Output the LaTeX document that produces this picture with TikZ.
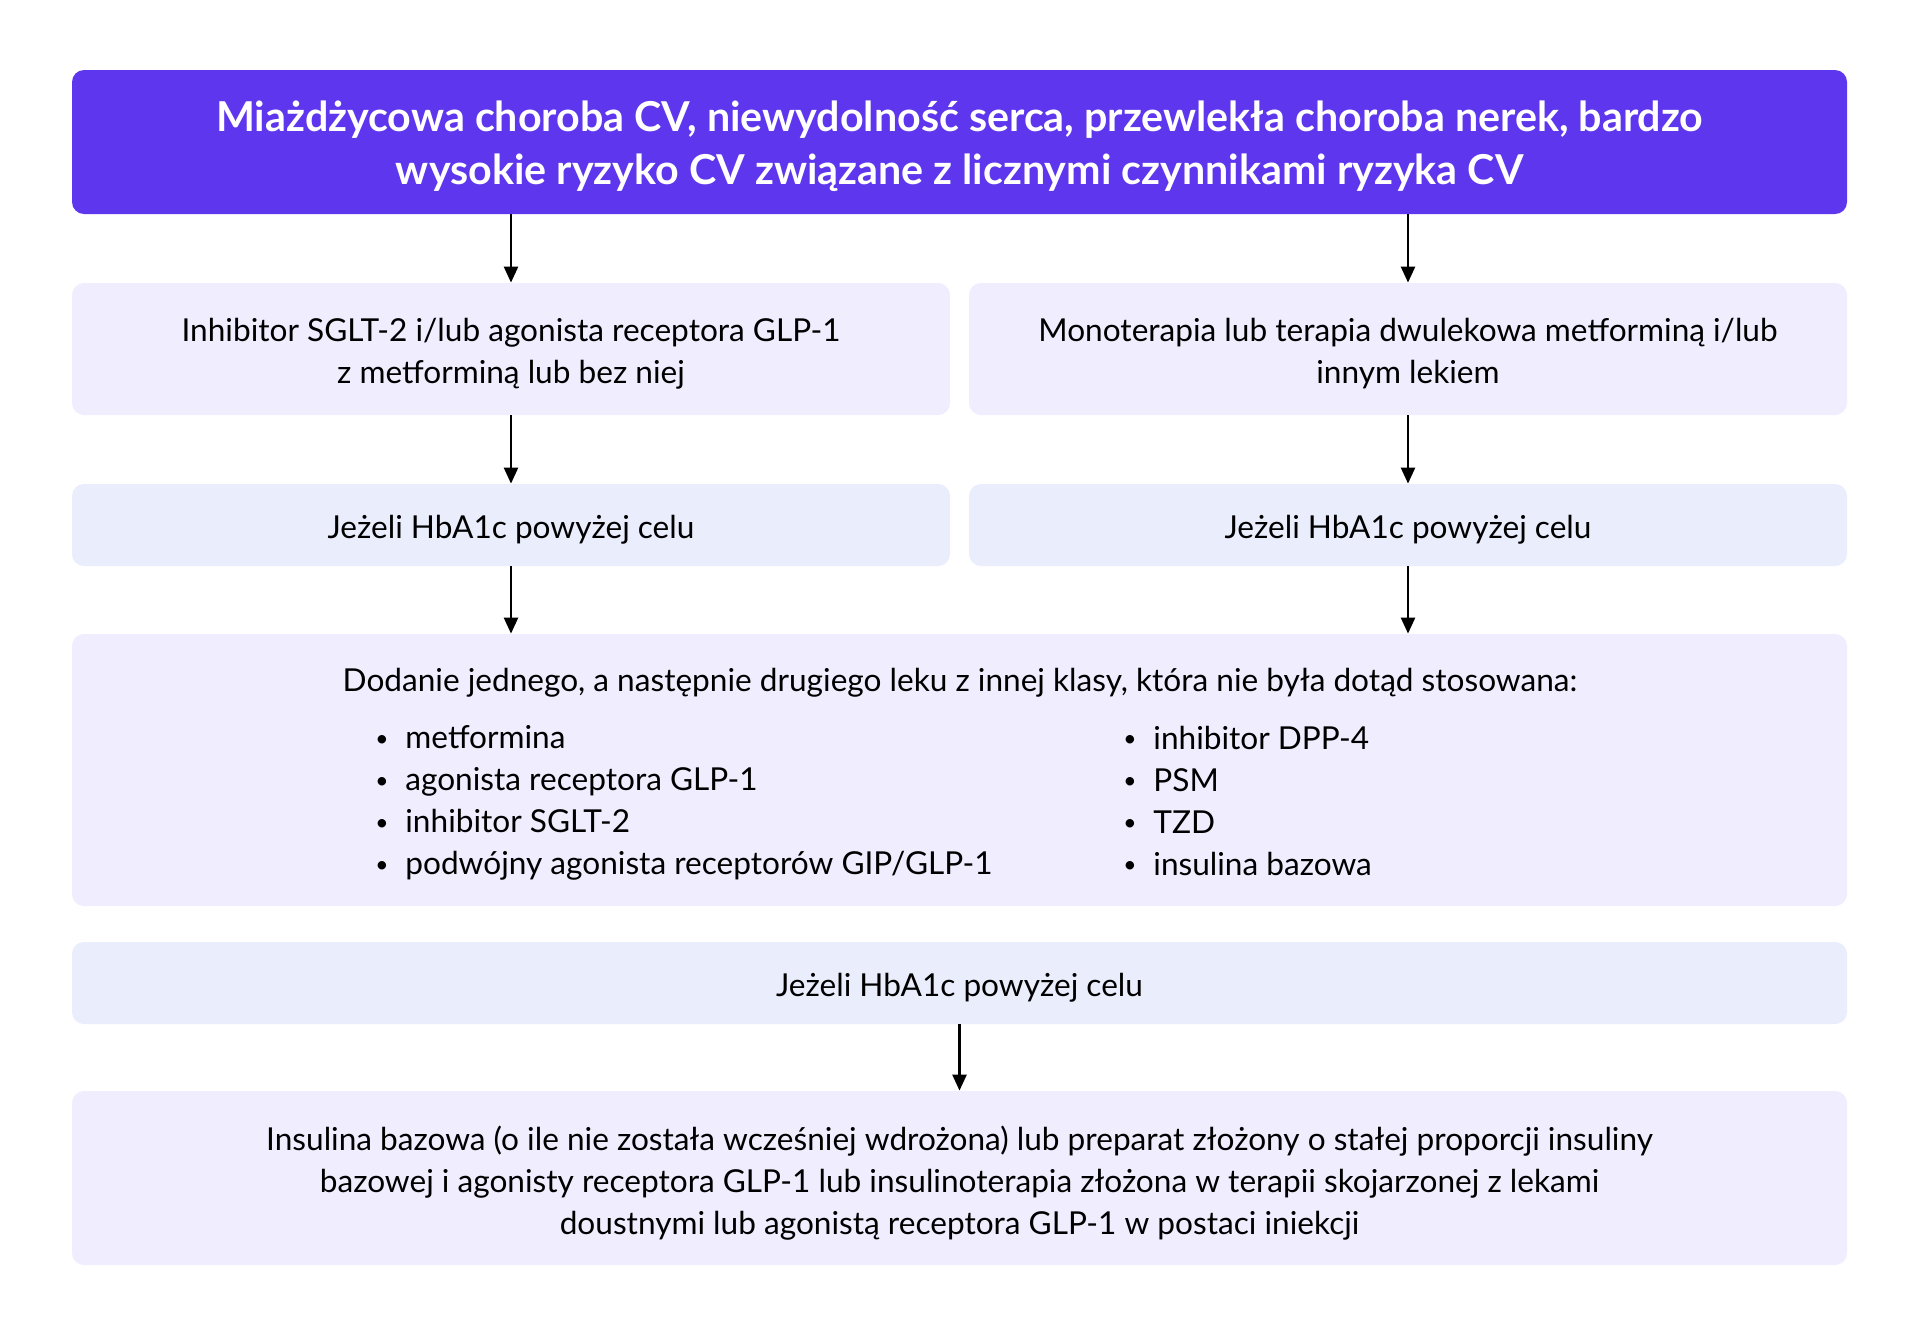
\documentclass[tikz,border=0pt]{standalone}
\usepackage{fontspec}
\setmainfont{Lato}
\usetikzlibrary{arrows.meta}
\definecolor{titlebg}{RGB}{94,54,238}
\definecolor{boxA}{RGB}{240,237,254}
\definecolor{boxB}{RGB}{234,237,252}
\newcommand{\mybul}{\makebox[15pt][l]{\raisebox{1.2pt}{\scalebox{0.72}{•}}}}
\begin{document}
\begin{tikzpicture}[x=0.5pt,y=-0.5pt,
  box/.style={rectangle,rounded corners=6pt,inner sep=0pt},
  bodyfont/.style={font=\fontsize{15.8}{21}\selectfont},
  lbl/.style={inner sep=0pt,align=center,bodyfont,yshift=-2.5pt},
  tlbl/.style={inner sep=0pt,align=center,text=white,font=\fontsize{20.6}{26.3}\selectfont\bfseries,yshift=-2pt},
  titlebox/.style={box,fill=titlebg,minimum width=887.5pt,minimum height=72pt},
  halfA/.style={box,fill=boxA,minimum width=439pt,minimum height=66pt},
  halfB/.style={box,fill=boxB,minimum width=439pt,minimum height=41pt},
  fullA/.style={box,fill=boxA,minimum width=887.5pt},
  fullB/.style={box,fill=boxB,minimum width=887.5pt,minimum height=41pt},
  txt/.style={inner sep=0pt,align=left,bodyfont},
  conn/.style={line width=1.25pt,-{Triangle[width=7pt,length=8pt]}}]
\useasboundingbox[fill=white] (0,0) rectangle (1920,1335);
\node[titlebox,label={[tlbl,name=topt]center:{Miażdżycowa choroba CV, niewydolność serca, przewlekła choroba nerek, bardzo\\wysokie ryzyko CV związane z licznymi czynnikami ryzyka CV}}] (top) at (959.5,142) {};
\node[halfA,label={[lbl,name=l1t]center:{Inhibitor SGLT-2 i/lub agonista receptora GLP-1\\z metforminą lub bez niej}}] (l1) at (511,349) {};
\node[halfA,label={[lbl,name=r1t]center:{Monoterapia lub terapia dwulekowa metforminą i/lub\\innym lekiem}}] (r1) at (1408,349) {};
\node[halfB,label={[lbl,name=l2t]center:{Jeżeli HbA1c powyżej celu}}] (l2) at (511,525) {};
\node[halfB,label={[lbl,name=r2t]center:{Jeżeli HbA1c powyżej celu}}] (r2) at (1408,525) {};
\node[fullA,minimum height=136pt] (mid) at (959.5,770) {};
\node[txt] (midhead) at (960,683) {Dodanie jednego, a następnie drugiego leku z innej klasy, która nie była dotąd stosowana:};
\node[txt,anchor=west] (listL) at (375,803) {\mybul metformina\\\mybul agonista receptora GLP-1\\\mybul inhibitor SGLT-2\\\mybul podwójny agonista receptorów GIP/GLP-1};
\node[txt,anchor=west] (listR) at (1123,800.5) {\mybul inhibitor DPP-4\\\mybul PSM\\\mybul TZD\\\mybul insulina bazowa};
\node[fullB,label={[lbl,name=c3t]center:{Jeżeli HbA1c powyżej celu}}] (c3) at (959.5,983) {};
\node[fullA,minimum height=87pt,label={[lbl,name=bott]center:{Insulina bazowa (o ile nie została wcześniej wdrożona) lub preparat złożony o stałej proporcji insuliny\\bazowej i agonisty receptora GLP-1 lub insulinoterapia złożona w terapii skojarzonej z lekami\\doustnymi lub agonistą receptora GLP-1 w postaci iniekcji}}] (bot) at (959.5,1178) {};
\draw[conn] (top.south -| l1) -- (l1.north);
\draw[conn] (top.south -| r1) -- (r1.north);
\draw[conn] (l1) -- (l2);
\draw[conn] (r1) -- (r2);
\draw[conn] (l2.south) -- (l2.south |- mid.north);
\draw[conn] (r2.south) -- (r2.south |- mid.north);
\draw[conn] (c3) -- (bot);
\end{tikzpicture}
\end{document}
